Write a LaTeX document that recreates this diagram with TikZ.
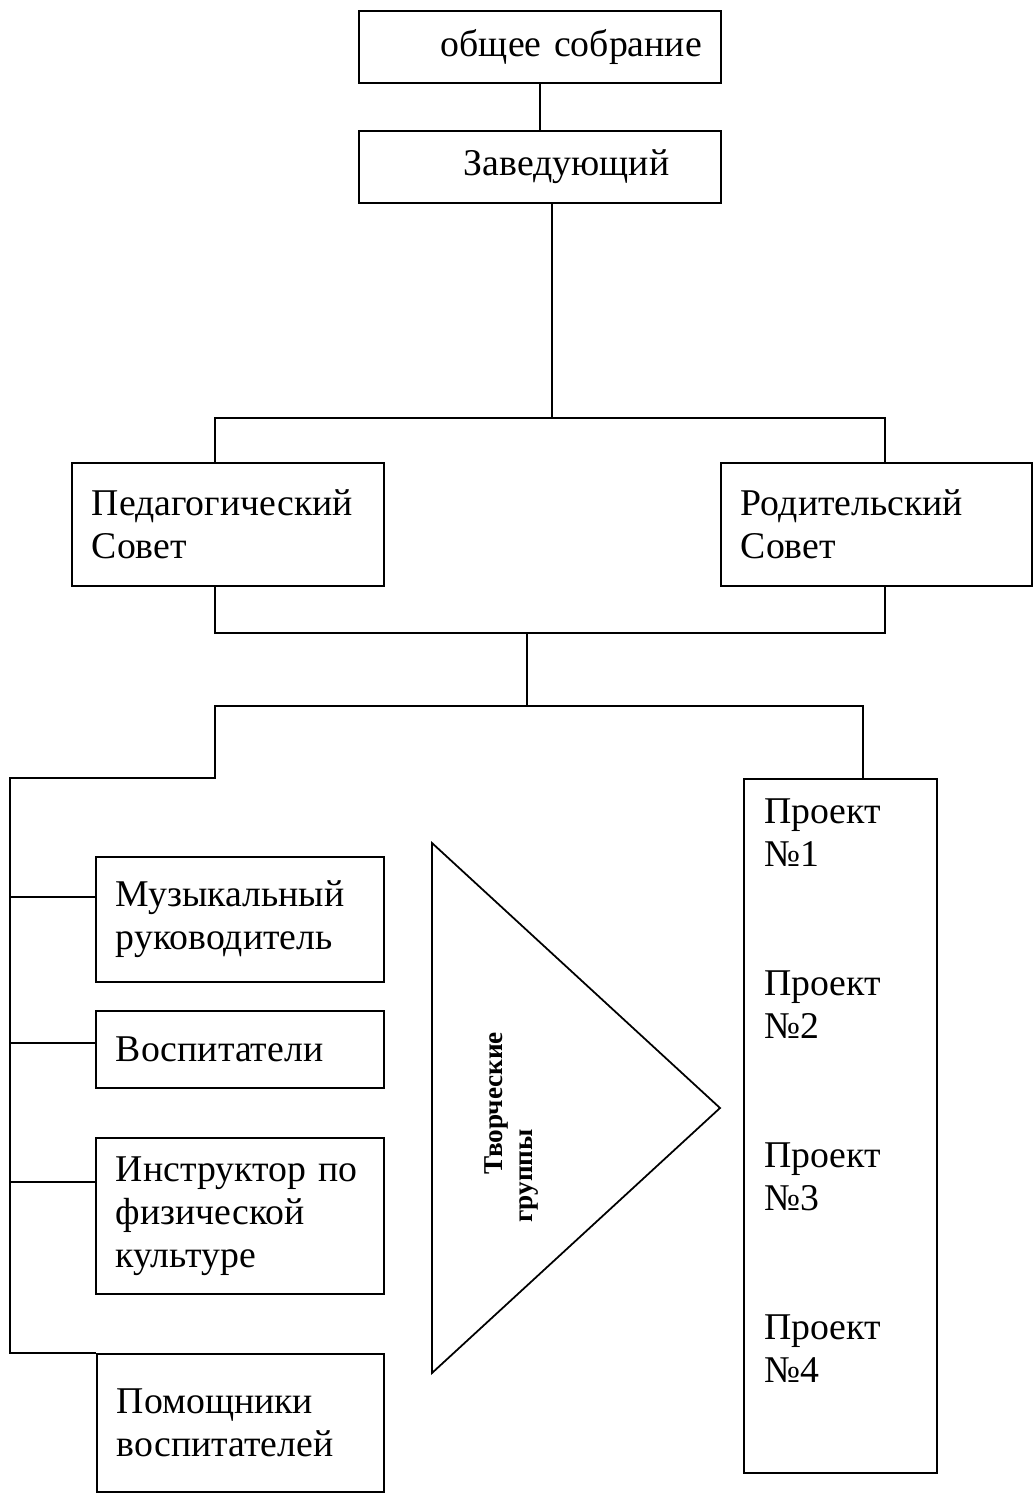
\documentclass[tikz,border=0pt]{standalone}
\usepackage{fontspec}
\setmainfont{Liberation Serif}
\tikzset{
   unit/.style={draw=black, line width=1pt, rectangle, anchor=north west,
      align=left, inner xsep=0.4cm, inner ysep=0pt,
      font=\fontsize{21.5}{24.5}\selectfont},
   lbl/.style={anchor=north west, align=left, inner sep=0pt,
      font=\fontsize{21.5}{24.5}\selectfont},
   link/.style={draw=black, line width=1pt},
   group/.style={rotate=90, anchor=base west, inner sep=0pt,
      font=\bfseries\fontsize{15.5}{17}\selectfont},
    }

\begin{document}
\begin{tikzpicture}[x=0.02cm, y=-0.02cm]
            \useasboundingbox (0,0) rectangle (1033,1493);
            % top of the chart
            \node[unit, text width=6.44cm, minimum height=1.44cm] (sobr) at (358,10) {\hspace*{1.24cm}\mbox{общее собрание}};
            \node[unit, text width=6.44cm, minimum height=1.44cm] (zav) at (358,130) {\hspace*{1.7cm}Заведующий};
            % councils
            \node[unit, text width=5.44cm, minimum height=2.46cm] (ped) at (71,462) {Педагогический\\Совет};
            \node[unit, text width=5.42cm, minimum height=2.46cm] (rod) at (720,462) {Родительский\\Совет};
            % staff
            \node[unit, text width=4.96cm, minimum height=2.5cm] (muz) at (95,856) {Музыкальный\\руководитель};
            \node[unit, text width=4.96cm, minimum height=1.54cm] (vosp) at (95,1010) {Воспитатели};
            \node[unit, text width=4.96cm, minimum height=3.12cm] (instr) at (95,1137) {Инструктор по\\физической\\культуре};
            \node[unit, text width=4.94cm, minimum height=2.76cm] (pom) at (96,1353) {Помощники\\воспитателей};
            % projects
            \node[unit, minimum width=3.86cm, minimum height=13.88cm] (proj) at (743,778) {};
            \foreach \k/\y in {1/798, 2/970, 3/1142, 4/1314}
               \node[lbl] (p\k) at (764,\y) {Проект\\№\k};
            % creative groups
            \draw[link, line join=miter] (432,843) -- (720,1108) -- (432,1373) -- cycle;
            \node[group] (tg1) at (502,1175) {Творческие};
            \node[group] (tg2) at (532,1223) {группы};
            % junctions
            \coordinate (a1) at (552,418);
            \coordinate (al) at (215,418);
            \coordinate (ar) at (885,418);
            \coordinate (bl) at (215,633);
            \coordinate (br) at (885,633);
            \coordinate (b1) at (527,633);
            \coordinate (c1) at (527,706);
            \coordinate (cl) at (215,706);
            \coordinate (cr) at (863,706);
            \coordinate (d1) at (215,778);
            \coordinate (d2) at (10,778);
            \coordinate (e1) at (10,897);
            \coordinate (e2) at (10,1043);
            \coordinate (e3) at (10,1182);
            \coordinate (e4) at (10,1353);
            % connectors
            \draw[link] (sobr.south) -- (zav.north);
            \draw[link] (zav.south -| a1) -- (a1);
            \draw[link] (ped.north -| al) -- (al) -- (ar) -- (rod.north -| ar);
            \draw[link] (ped.south -| bl) -- (bl) -- (br) -- (rod.south -| br);
            \draw[link] (b1) -- (c1);
            \draw[link] (proj.north -| cr) -- (cr) -- (cl) -- (d1) -- (d2) -- (e4) -- (pom.north west);
            \draw[link] (e1) -- (e1 -| muz.west);
            \draw[link] (e2) -- (e2 -| vosp.west);
            \draw[link] (e3) -- (e3 -| instr.west);
        \end{tikzpicture}
\end{document}
